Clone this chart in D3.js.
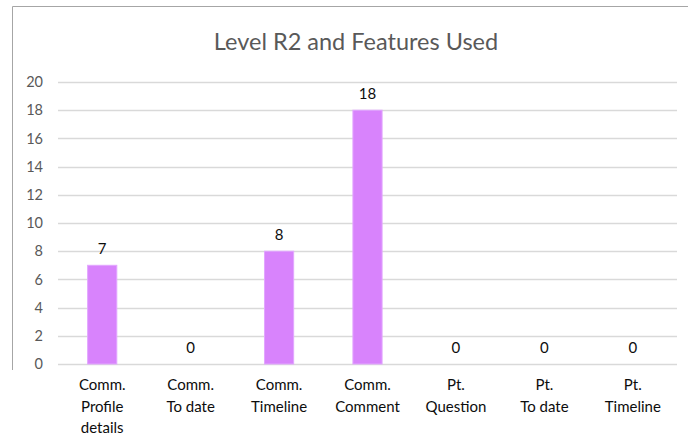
<!DOCTYPE html>
<html>
<head>
<meta charset="utf-8">
<script src="https://cdn.jsdelivr.net/npm/d3@7"></script>
<style>
  body { margin: 0; background: #fff; }
  svg text { font-family: Lato, "Open Sans", sans-serif; }
</style>
</head>
<body>
<div id="chart"></div>
<script>
(function() {
    // chart data
    var categories = [
        ["Comm.", "Profile", "details"],
        ["Comm.", "To date"],
        ["Comm.", "Timeline"],
        ["Comm.", "Comment"],
        ["Pt.", "Question"],
        ["Pt.", "To date"],
        ["Pt.", "Timeline"]
    ];
    var values = [7, 0, 8, 18, 0, 0, 0];
    var yTicks = [0, 2, 4, 6, 8, 10, 12, 14, 16, 18, 20];
    var title = "Level R2 and Features Used";

    var width = 688,
        height = 436;
    var margin = { top: 82, right: 11, bottom: 72, left: 58 };

    var svg = d3.select("#chart")
        .append("svg")
        .attr("width", width)
        .attr("height", height);

    // outer frame (cropped, only top and left visible)
    svg.append("path")
        .attr("d", "M12.5,370 L12.5,6.5 L688,6.5")
        .attr("fill", "none")
        .attr("stroke", "#a6a6a6")
        .attr("stroke-width", 1);

    var x = d3.scaleBand()
        .domain(d3.range(categories.length))
        .range([margin.left, width - margin.right])
        .paddingInner(0.67)
        .paddingOuter(0.335);

    var y = d3.scaleLinear()
        .domain([0, 20])
        .range([height - margin.bottom, margin.top]);

    // gridlines
    svg.append("g")
        .selectAll("line")
        .data(yTicks)
        .enter().append("line")
        .attr("x1", margin.left)
        .attr("x2", width - margin.right)
        .attr("y1", function(d) { return Math.round(y(d)) + 0.5 })
        .attr("y2", function(d) { return Math.round(y(d)) + 0.5 })
        .attr("stroke", "#d9d9d9")
        .attr("stroke-width", 1.3);

    // y axis labels
    var yAxis = d3.axisLeft(y).tickValues(yTicks).tickSize(0).tickPadding(15);
    var yg = svg.append("g")
        .attr("transform", "translate(" + margin.left + ",0)")
        .call(yAxis);
    yg.select(".domain").remove();
    yg.selectAll("text")
        .attr("fill", "#595959")
        .style("font-size", "14.5px");

    // bars
    svg.selectAll(".bar")
        .data(values)
        .enter().append("rect")
        .attr("class", "bar")
        .attr("x", function(d, i) { return x(i) })
        .attr("width", x.bandwidth())
        .attr("y", function(d) { return y(d) })
        .attr("height", function(d) { return y(0) - y(d) })
        .attr("fill", "#d883fc")
        .attr("stroke", "#e2a6ff")
        .attr("stroke-width", 1);

    // value labels
    svg.selectAll(".val")
        .data(values)
        .enter().append("text")
        .attr("class", "val")
        .attr("x", function(d, i) { return x(i) + x.bandwidth() / 2 })
        .attr("y", function(d) { return y(d) - 11 })
        .attr("text-anchor", "middle")
        .attr("fill", "#0d0d0d")
        .style("font-size", "15px")
        .text(function(d) { return d });

    // category labels
    var cat = svg.selectAll(".cat")
        .data(categories)
        .enter().append("text")
        .attr("class", "cat")
        .attr("text-anchor", "middle")
        .attr("fill", "#0d0d0d")
        .style("font-size", "15px")
        .attr("transform", function(d, i) {
            return "translate(" + (x(i) + x.bandwidth() / 2) + ",390)"
        });
    cat.selectAll("tspan")
        .data(function(d) { return d })
        .enter().append("tspan")
        .attr("x", 0)
        .attr("y", function(d, i) { return i * 21.5 })
        .text(function(d) { return d });

    // title
    svg.append("text")
        .attr("x", 356)
        .attr("y", 50)
        .attr("text-anchor", "middle")
        .attr("fill", "#595959")
        .style("font-size", "23.5px")
        .text(title);
})();
</script>
</body>
</html>
